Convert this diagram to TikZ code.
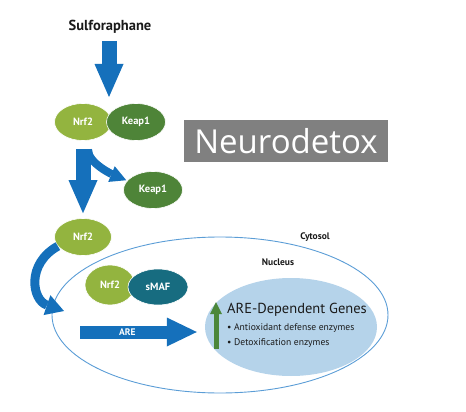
\documentclass[tikz,border=0pt]{standalone}
\usepackage{fontspec}
\setmainfont{PT Sans}
\newfontfamily\bannerfont{Open Sans}
\usetikzlibrary{positioning,calc,arrows.meta,shapes.geometric}
\definecolor{AREblue}{HTML}{1570BB}
\definecolor{NrfLime}{HTML}{93B43F}
\definecolor{KeapGreen}{HTML}{4E8438}
\definecolor{SmafTeal}{HTML}{176C80}
\definecolor{GeneSky}{HTML}{B5D3EA}
\definecolor{MemBlue}{HTML}{5B9DD6}
\definecolor{UpGreen}{HTML}{4C873A}
\definecolor{BannerGray}{HTML}{808080}
\definecolor{Ink}{HTML}{1A1A1A}

\begin{document}
\begin{tikzpicture}[x=1pt, y=-1pt,
  every node/.style={font=\fontsize{10}{12}\selectfont, text=Ink, inner sep=1pt},
  blob/.style  ={ellipse, inner sep=0pt, text=white, draw=white, line width=0.6pt,
                 font=\fontsize{10.5}{12}\selectfont\bfseries},
  nrfov/.style ={blob, fill=NrfLime, minimum width=57pt, minimum height=37pt},
  keapov/.style={blob, fill=KeapGreen, minimum width=59pt, minimum height=37pt},
  smafov/.style={blob, fill=SmafTeal, minimum width=60pt, minimum height=36pt},
  membrane/.style={ellipse, draw=MemBlue, line width=0.9pt, inner sep=0pt,
                 minimum width=336pt, minimum height=156pt},
  genes/.style ={ellipse, fill=GeneSky, inner sep=0pt, minimum width=172pt, minimum height=98pt},
  tag/.style   ={font=\fontsize{9.5}{11}\selectfont\bfseries},
  bullet/.style={anchor=west, font=\fontsize{9.6}{11}\selectfont},
  banner/.style={fill=BannerGray, text=white, minimum width=204pt, minimum height=42pt,
                 inner sep=0pt, font=\bannerfont\fontsize{33}{36}\selectfont},
  fatarrow/.style={draw=AREblue, line width=15pt, -{Triangle[width=29pt,length=33pt,line width=0pt]}},
  midarrow/.style={draw=AREblue, line width=8pt, -{Triangle[width=17pt,length=16pt,line width=0pt]}},
  curlarrow/.style={draw=AREblue, line width=9pt, -{Triangle[width=21pt,length=18pt,line width=0pt]}},
  arearrow/.style={draw=AREblue, line width=13pt, -{Triangle[width=29pt,length=30pt,line width=0pt]}},
  uparrow/.style={draw=UpGreen, line width=5pt, -{Triangle[width=12pt,length=12pt,line width=0pt]}}]
\useasboundingbox (0,0) rectangle (466,412);
\node[font=\fontsize{14.5}{16}\selectfont\bfseries] (sul) at (110,27) {Sulforaphane};
\node[nrfov]  (nrfA)  at (83,122)  {Nrf2};
\node[keapov] (keapA) at (136,122) {Keap1};
\coordinate (cplx) at (109,104);
\node[keapov] (keapB) at (153,190) {Keap1};
\node[nrfov]  (nrfB)  at (83,237)  {Nrf2};
\node[membrane] (nuc) at (220,315) {};
\node[tag] (cyto) at (315,237) {Cytosol};
\node[tag] (nucl) at (278,262) {Nucleus};
\node[nrfov, minimum width=50pt, minimum height=40pt] (nrfC) at (110,285) {Nrf2};
\node[smafov] (smaf) at (158,287) {sMAF};
\node[genes] (genes) at (291,327) {};
\node[anchor=west, font=\fontsize{14.5}{16}\selectfont] (genesHd) at (226,310) {ARE-Dependent Genes};
\node[bullet] (genesB1) at (226,328) {• Antioxidant defense enzymes};
\node[bullet] (genesB2) at (226,343) {• Detoxification enzymes};
\node[banner] (logo) at (286,141) {Neurodetox};
\coordinate (memIn) at (64,311);
\coordinate (areS) at (80,332);
% arrows
\draw[fatarrow, shorten <=6pt, shorten >=7pt] (sul.south -| cplx) -- (cplx);
\draw[fatarrow, shorten <=8pt, shorten >=5pt] (nrfA.south) -- (nrfB.north);
\draw[midarrow, shorten >=1pt] ([xshift=5pt,yshift=-9pt]nrfA.south) .. controls +(0,14) and +(-12,-5) .. (keapB.160);
\draw[curlarrow] (nrfB.200) .. controls (26,264) and (32,300) .. (memIn);
\draw[arearrow, shorten >=8pt] (areS) -- node[pos=0.38, text=white, font=\fontsize{9.5}{10}\selectfont\bfseries]{ARE} (areS -| genes.west);
\draw[uparrow] ([xshift=-10pt]genesB2.south west) -- ([xshift=-10pt]genesHd.north west);
\end{tikzpicture}
\end{document}
